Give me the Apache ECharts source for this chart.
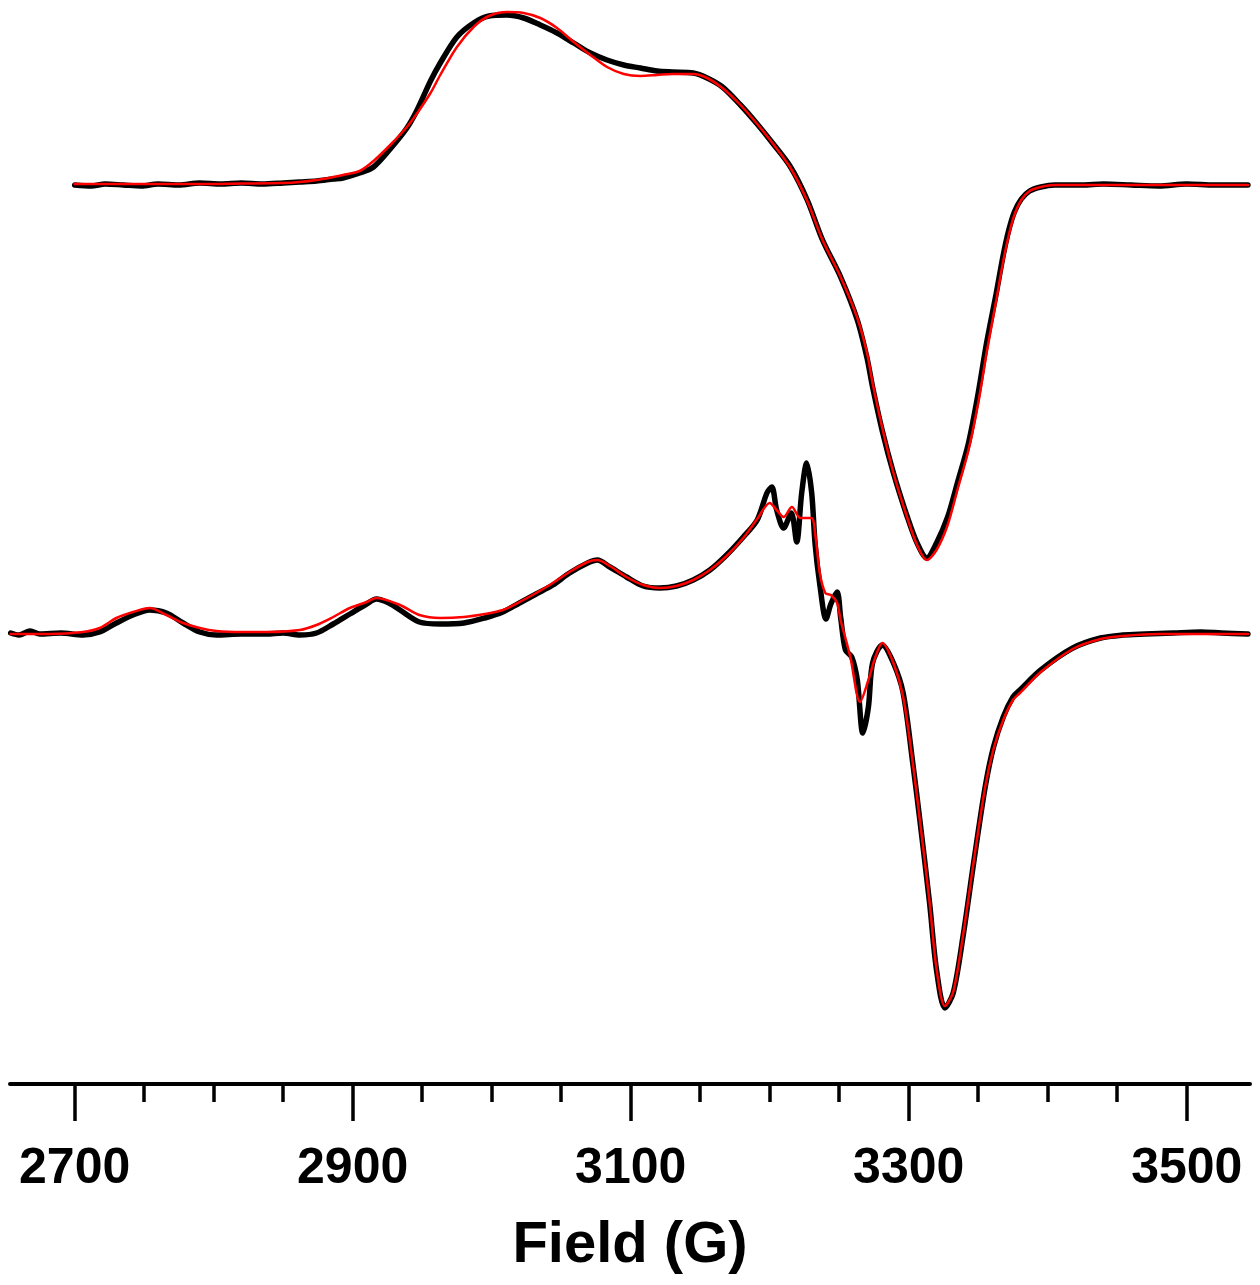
<!DOCTYPE html>
<html>
<head>
<meta charset="utf-8">
<script src="https://cdn.jsdelivr.net/npm/echarts@6/dist/echarts.min.js"></script>
<style>
  html, body { margin: 0; padding: 0; background: #fff; }
  #chart { width: 1260px; height: 1285px; }
</style>
</head>
<body>
<div id="chart"></div>
<script>
// ---- Tick labels / tick positions (Field, G) ----
const majorTicks = [2700, 2900, 3100, 3300, 3500];
const minorTicks = [2750, 2800, 2850, 2950, 3000, 3050, 3150, 3200, 3250, 3350, 3400, 3450];

// ---- Vertical offsets of the two stacked spectra (a.u.) ----
const topOffset = 899;
const bottomOffset = 450;

// ---- Top spectrum: experimental (black) ----
const topExpField = [2700, 2712, 2722, 2735, 2748, 2760, 2775, 2790, 2805, 2820, 2835, 2850, 2862, 2874, 2886, 2893, 2905, 2915, 2927, 2939, 2946, 2956, 2963, 2975, 2987, 2998, 3011, 3023, 3035, 3047, 3059, 3071, 3083, 3095, 3107, 3119, 3130, 3145, 3155, 3166, 3179, 3191, 3202, 3215, 3227, 3238, 3251, 3263, 3270, 3274, 3281, 3289, 3299, 3306, 3313, 3320, 3328, 3335, 3343, 3350, 3356, 3363, 3368, 3372, 3376, 3381, 3387, 3395, 3405, 3425, 3440, 3460, 3480, 3500, 3520, 3544];
const topExpSignal = [0, -1, 1, 0, -1, 1, 0, 2, 1, 2, 1, 2, 3, 4, 6, 7, 12, 18, 36, 57, 74, 104, 122, 148, 162, 169, 170, 167, 160, 152, 142, 132, 125, 120, 117, 114, 113, 112, 107, 98, 80, 61, 42, 18, -15, -55, -92, -135, -173, -202, -246, -288, -332, -358, -373, -358, -332, -298, -258, -208, -158, -108, -70, -45, -27, -14, -6, -2, 0, 0, 1, 0, -1, 1, 0, 0];

// ---- Top spectrum: simulation (red) ----
const topSimField = [2700, 2730, 2760, 2790, 2820, 2850, 2862, 2874, 2886, 2893, 2905, 2915, 2927, 2939, 2946, 2956, 2963, 2975, 2987, 2998, 3011, 3023, 3035, 3047, 3059, 3071, 3083, 3095, 3107, 3119, 3130, 3145, 3155, 3166, 3179, 3191, 3202, 3215, 3227, 3238, 3251, 3263, 3270, 3274, 3281, 3289, 3299, 3306, 3313, 3320, 3328, 3335, 3343, 3350, 3356, 3363, 3368, 3372, 3376, 3381, 3387, 3395, 3405, 3425, 3460, 3500, 3544];
const topSimSignal = [1, 1, 1, 1, 1.5, 2, 3, 5, 8, 10, 14, 24, 40, 58, 71, 92, 110, 138, 158, 169, 173, 172, 167, 157, 143, 130, 118, 111, 109, 110, 111, 111, 107, 97, 80, 61, 42, 17, -16, -55, -92, -133, -168, -198, -243, -288, -333, -360, -375, -365, -340, -305, -265, -218, -168, -115, -76, -50, -30, -15, -6, -2, 0, 0, 0, 0, 0];

// ---- Bottom spectrum: experimental (black) ----
const botExpField = [2654, 2660, 2668, 2675, 2690, 2706, 2718, 2730, 2742, 2754, 2766, 2778, 2790, 2802, 2820, 2838, 2850, 2862, 2874, 2886, 2898, 2910, 2917, 2926, 2934, 2948, 2963, 2980, 2995, 3008, 3020, 3032, 3044, 3056, 3069, 3076, 3085, 3097, 3109, 3121, 3133, 3145, 3157, 3169, 3181, 3191, 3198, 3201.5, 3205, 3210, 3215.5, 3219.4, 3223, 3226.6, 3230.2, 3232.6, 3236, 3240.5, 3244, 3248.5, 3251, 3254.5, 3259, 3263, 3267, 3271, 3274, 3281, 3289, 3296, 3303, 3308, 3315, 3320, 3326, 3332, 3339, 3347, 3355, 3361, 3368, 3375, 3380, 3395, 3418, 3438, 3454, 3470, 3490, 3510, 3525, 3544];
const botExpSignal = [1, -1, 3, 0, 1, -1, 2, 11, 19, 24, 21, 11, 2, -1, 0, 0, 1, -1, 1, 10, 20, 30, 35, 31, 24, 12, 10, 11, 16, 22, 31, 40, 49, 61, 71, 74, 67, 57, 48, 46, 48, 54, 64, 79, 97, 114, 141, 147, 124, 106, 121, 92, 141, 171, 141, 91, 50, 15, 30, 42, 17, -16, -23, -46, -99, -73, -29, -11, -29, -59, -130, -186, -269, -336, -374, -359, -303, -226, -153, -113, -83, -63, -56, -36, -14, -4, -1, 0, 1, 2, 1, 0];

// ---- Bottom spectrum: simulation (red) ----
const botSimField = [2654, 2682, 2706, 2718, 2730, 2742, 2754, 2766, 2778, 2790, 2802, 2820, 2838, 2862, 2874, 2886, 2898, 2910, 2917, 2934, 2948, 2963, 2980, 2995, 3008, 3020, 3032, 3044, 3056, 3069, 3076, 3085, 3097, 3109, 3121, 3133, 3145, 3157, 3169, 3181, 3191, 3200, 3205, 3210, 3216, 3222, 3230, 3233, 3236, 3240, 3244, 3248.5, 3251, 3258, 3265, 3271, 3276, 3281, 3289, 3296, 3303, 3308, 3315, 3320, 3326, 3332, 3339, 3347, 3355, 3361, 3368, 3375, 3380, 3395, 3418, 3438, 3454, 3480, 3510, 3544];
const botSimSignal = [0, 0, 2, 6, 16, 22, 26, 19, 11, 6, 3, 2, 2, 4, 9, 17, 26, 32, 36, 29, 19, 16, 17, 20, 24, 32, 41, 51, 62, 72, 74, 68, 57, 49, 46, 48, 54, 64, 78, 96, 115, 131, 124, 117, 127, 116, 116, 97, 61, 41, 39, 31, 14, -23, -68, -46, -23, -9, -29, -63, -130, -186, -268, -335, -372, -358, -302, -225, -153, -115, -86, -66, -59, -38, -15, -5, -2, 0, 0, 0];

function pairs(fields, signal, offset) {
  return fields.map((f, i) => [f, offset + signal[i]]);
}

const FONT = 'Arial, "Liberation Sans", sans-serif';
const chart = echarts.init(document.getElementById('chart'), null, { renderer: 'canvas' });

const xMin = 2653.5, xMax = 3545.5;

chart.setOption({
  animation: false,
  backgroundColor: '#ffffff',
  grid: { left: 10, right: 10, top: 0, bottom: 201, containLabel: false },
  xAxis: [
    {
      type: 'value', min: xMin, max: xMax, position: 'bottom',
      name: 'Field (G)', nameLocation: 'middle', nameGap: 133,
      nameTextStyle: { fontSize: 58, fontWeight: 'bold', color: '#000', fontFamily: FONT },
      axisLine: { show: true, lineStyle: { color: '#000', width: 4 } },
      axisTick: { show: true, customValues: majorTicks, length: 37, lineStyle: { color: '#000', width: 3.5 } },
      axisLabel: { show: true, customValues: majorTicks, margin: 60, fontSize: 50, fontWeight: 'bold', color: '#000', fontFamily: FONT,
                   formatter: (v) => String(Math.round(v)) },
      splitLine: { show: false }
    },
    {
      type: 'value', min: xMin, max: xMax, position: 'bottom',
      axisLine: { show: false },
      axisTick: { show: true, customValues: minorTicks, length: 18, lineStyle: { color: '#000', width: 3.5 } },
      axisLabel: { show: false },
      splitLine: { show: false }
    }
  ],
  yAxis: { type: 'value', min: 0, max: 1084, show: false, splitLine: { show: false } },
  series: [
    { type: 'line', xAxisIndex: 0, data: pairs(topExpField, topExpSignal, topOffset), showSymbol: false, smooth: 0.3,
      lineStyle: { color: '#000', width: 5.5, cap: 'round', join: 'round' } },
    { type: 'line', xAxisIndex: 0, data: pairs(topSimField, topSimSignal, topOffset), showSymbol: false, smooth: 0.3,
      lineStyle: { color: '#ff0000', width: 2.5, cap: 'round', join: 'round' } },
    { type: 'line', xAxisIndex: 0, data: pairs(botExpField, botExpSignal, bottomOffset), showSymbol: false, smooth: 0.3,
      lineStyle: { color: '#000', width: 5.5, cap: 'round', join: 'round' } },
    { type: 'line', xAxisIndex: 0, data: pairs(botSimField, botSimSignal, bottomOffset), showSymbol: false, smooth: 0.3,
      lineStyle: { color: '#ff0000', width: 2.5, cap: 'round', join: 'round' } }
  ]
});
</script>
</body>
</html>
